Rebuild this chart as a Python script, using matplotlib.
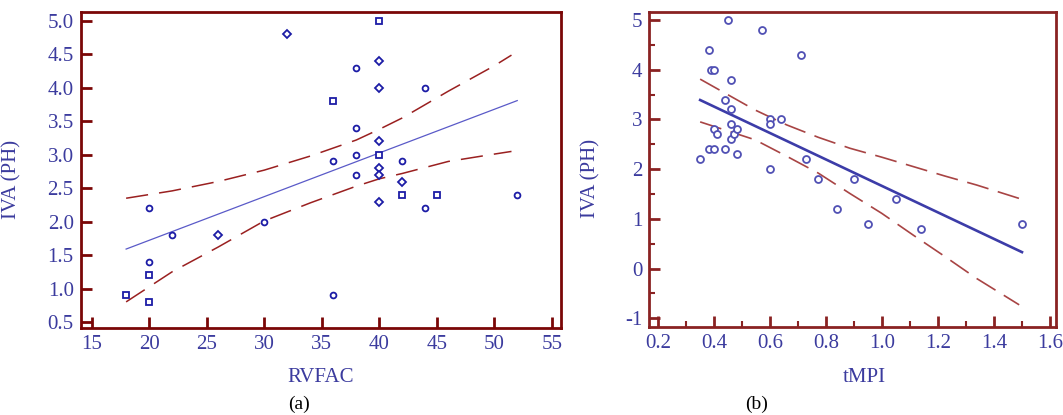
import matplotlib.pyplot as plt
from matplotlib.ticker import MultipleLocator

# panel (a): IVA (PH) against RVFAC
rvfac = [18, 20, 20, 20, 20, 22, 26, 30, 32, 36, 36, 36, 38, 38, 38, 38,
         40, 40, 40, 40, 40, 40, 40, 40, 42, 42, 42, 44, 44, 45, 52]
iva_a = [0.9, 2.2, 1.4, 1.2, 0.8, 1.8, 1.8, 2.0, 4.8, 3.8, 2.9, 0.9, 4.3, 3.4, 3.0, 2.7,
         5.0, 4.4, 4.0, 3.2, 3.0, 2.8, 2.7, 2.3, 2.9, 2.6, 2.4, 4.0, 2.2, 2.4, 2.4]
shape_a = ['s', 'o', 'o', 's', 's', 'o', 'D', 'o', 'D', 's', 'o', 'o', 'o', 'o', 'o', 'o',
           's', 'D', 'D', 'D', 's', 'D', 'D', 'D', 'o', 'D', 's', 'o', 'o', 's', 'o']
fit_a_x = [18, 52]
fit_a_y = [1.59, 3.81]
ci_a_x = [18, 22, 26, 30, 34, 38, 40, 42, 46, 50, 51.5]
ci_a_hi = [2.35, 2.46, 2.60, 2.77, 2.98, 3.22, 3.38, 3.55, 3.95, 4.33, 4.49]
ci_a_lo = [0.80, 1.25, 1.62, 2.01, 2.28, 2.53, 2.64, 2.72, 2.90, 3.01, 3.05]

# panel (b): IVA (PH) against tMPI
tmpi = [0.35, 0.38, 0.38, 0.39, 0.40, 0.40, 0.40, 0.41, 0.44, 0.44, 0.45, 0.46, 0.46,
        0.46, 0.46, 0.47, 0.48, 0.48, 0.57, 0.60, 0.60, 0.60, 0.64, 0.71, 0.73, 0.77,
        0.84, 0.90, 0.95, 1.05, 1.14, 1.50]
iva_b = [2.2, 4.4, 2.4, 4.0, 4.0, 2.4, 2.8, 2.7, 3.4, 2.4, 5.0, 3.8, 3.2,
         2.9, 2.6, 2.7, 2.8, 2.3, 4.8, 3.0, 2.9, 2.0, 3.0, 4.3, 2.2, 1.8,
         1.2, 1.8, 0.9, 1.4, 0.8, 0.9]
fit_b_x = [0.35, 1.50]
fit_b_y = [3.39, 0.33]
ci_b_x = [0.35, 0.546, 0.659, 0.772, 0.885, 0.999, 1.112, 1.225, 1.338, 1.49]
ci_b_hi = [3.81, 3.19, 2.89, 2.64, 2.42, 2.24, 2.05, 1.86, 1.68, 1.41]
ci_b_lo = [2.95, 2.59, 2.26, 1.92, 1.51, 1.11, 0.67, 0.24, -0.20, -0.73]

plt.rcParams['font.family'] = ['Liberation Serif', 'DejaVu Serif']
plt.rcParams['lines.scale_dashes'] = False
plt.rcParams['axes.unicode_minus'] = False

TXT = '#3b3b9e'
FRAME = '#7a0606'

fig = plt.figure(figsize=(10.63, 4.15), dpi=100)
ax1 = fig.add_axes([0.0759, 0.2089, 0.4518, 0.7614])
ax2 = fig.add_axes([0.6110, 0.2128, 0.3820, 0.7576])


def frame(ax, spine_color, lw):
    for s in ax.spines.values():
        s.set_color(spine_color)
        s.set_linewidth(lw)
    ax.tick_params(which='both', direction='in', color=spine_color,
                   labelcolor=TXT, labelsize=15, pad=5, width=2)
    ax.tick_params(which='major', length=8)
    ax.tick_params(which='minor', length=4, width=1.5)


# (a)
ax1.plot(fit_a_x, fit_a_y, color='#5a5ac8', lw=0.9)
ax1.plot(ci_a_x, ci_a_hi, color='#9a2020', lw=1.1, dashes=(16, 8))
ax1.plot(ci_a_x, ci_a_lo, color='#9a2020', lw=1.1, dashes=(16, 8))
for xv, yv, m in zip(rvfac, iva_a, shape_a):
    ax1.plot(xv, yv, m, ms=4.2 if m != 'D' else 3.8, mfc='white', mec='#1c1ca6', mew=1.3)
ax1.set_xlim(14.05, 55.8)
ax1.set_ylim(0.405, 5.13)
ax1.set_xticks(range(15, 56, 5))
ax1.set_yticks([0.5, 1.0, 1.5, 2.0, 2.5, 3.0, 3.5, 4.0, 4.5, 5.0])
ax1.set_yticklabels(['0.5', '1.0', '1.5', '2.0', '2.5', '3.0', '3.5', '4.0', '4.5', '5.0'])
frame(ax1, FRAME, 2.0)
ax1.set_xlabel('RVFAC', fontsize=15, color=TXT)
ax1.set_ylabel('IVA (PH)', fontsize=15, color=TXT)
ax1.xaxis.set_label_coords(0.5, -0.125)
ax1.yaxis.set_label_coords(-0.124, 0.47)

# (b)
ax2.plot(fit_b_x, fit_b_y, color='#3c3ca8', lw=1.9)
ax2.plot(ci_b_x, ci_b_hi, color='#a84444', lw=1.2, dashes=(16, 7))
ax2.plot(ci_b_x, ci_b_lo, color='#a84444', lw=1.2, dashes=(16, 7))
ax2.plot(tmpi, iva_b, 'o', ms=5, mfc='white', mec='#5050b4', mew=1.3)
ax2.set_xlim(0.169, 1.62)
ax2.set_ylim(-1.17, 5.155)
ax2.set_xticks([0.2, 0.4, 0.6, 0.8, 1.0, 1.2, 1.4, 1.6])
ax2.set_xticklabels(['0.2', '0.4', '0.6', '0.8', '1.0', '1.2', '1.4', '1.6'])
ax2.set_yticks(range(-1, 6))
ax2.xaxis.set_minor_locator(MultipleLocator(0.1))
ax2.yaxis.set_minor_locator(MultipleLocator(0.5))
frame(ax2, '#8a2222', 2.0)
ax2.set_xlabel('tMPI', fontsize=15, color=TXT)
ax2.set_ylabel('IVA (PH)', fontsize=15, color=TXT)
ax2.xaxis.set_label_coords(0.53, -0.13)
ax2.yaxis.set_label_coords(-0.12, 0.47)

fig.text(299 / 1063, 1 - 404 / 415, '(a)', fontsize=14, ha='center', va='center')
fig.text(757 / 1063, 1 - 404 / 415, '(b)', fontsize=14, ha='center', va='center')

fig.savefig('out.png', dpi=100)
